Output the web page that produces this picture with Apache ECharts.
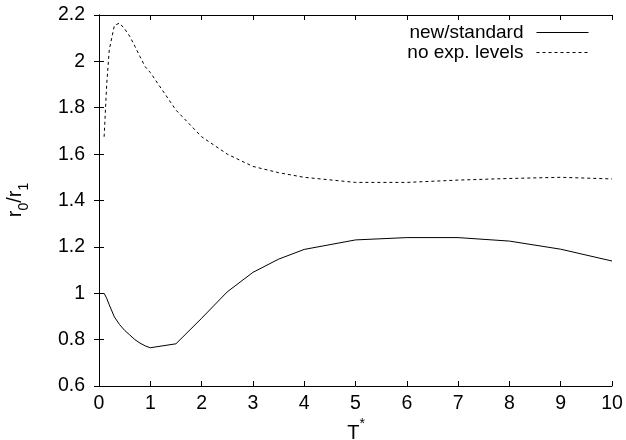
<!DOCTYPE html>
<html>
<head>
<meta charset="utf-8">
<script src="https://cdn.jsdelivr.net/npm/echarts@6/dist/echarts.min.js"></script>
<style>html,body{margin:0;padding:0;background:#fff;}#c{width:626px;height:440px;}</style>
</head>
<body>
<div id="c"></div>
<script>
const tValues = [0.1, 0.15, 0.2, 0.3, 0.4, 0.5, 0.6, 0.7, 0.8, 0.9, 1.0, 1.5, 2, 2.5, 3, 3.5, 4, 5, 6, 7, 8, 9, 10];
const newStandard = [1.0, 0.978, 0.95, 0.898, 0.865, 0.84, 0.82, 0.80, 0.785, 0.773, 0.765, 0.782, 0.892, 1.006, 1.09, 1.147, 1.189, 1.23, 1.24, 1.24, 1.225, 1.19, 1.139];
const noExpLevels = [1.675, 1.90, 2.05, 2.155, 2.165, 2.14, 2.108, 2.065, 2.02, 1.977, 1.952, 1.79, 1.675, 1.60, 1.547, 1.52, 1.50, 1.478, 1.478, 1.488, 1.495, 1.50, 1.493];
const seriesNames = ['new/standard', 'no exp. levels'];
const xTicks = [0, 10, 1];
const yTicks = [0.6, 2.2, 0.2];

const FONT = 'Liberation Sans';
const pair = (xs, ys) => xs.map((x, i) => [x, ys[i]]);
const axisCommon = {
  axisLine: {show: true, lineStyle: {color: '#000', width: 1}},
  axisTick: {show: true, inside: true, length: 5, lineStyle: {color: '#000', width: 1}},
  splitLine: {show: false}
};
const chart = echarts.init(document.getElementById('c'), null, {renderer: 'canvas'});
chart.setOption({
  animation: false,
  backgroundColor: '#fff',
  grid: {left: 99, right: 14, top: 15, bottom: 54, containLabel: false},
  xAxis: [
    Object.assign({type: 'value', min: xTicks[0], max: xTicks[1], interval: xTicks[2], position: 'bottom',
      axisLabel: {color: '#000', fontFamily: FONT, fontSize: 19.5, margin: 8}}, axisCommon),
    Object.assign({type: 'value', min: xTicks[0], max: xTicks[1], interval: xTicks[2], position: 'top',
      axisLabel: {show: false}}, axisCommon)
  ],
  yAxis: [
    Object.assign({type: 'value', min: yTicks[0], max: yTicks[1], interval: yTicks[2], position: 'left',
      axisLabel: {color: '#000', fontFamily: FONT, fontSize: 19.5, margin: 14,
        formatter: v => String(+v.toFixed(1))}}, axisCommon),
    Object.assign({type: 'value', min: yTicks[0], max: yTicks[1], interval: yTicks[2], position: 'right',
      axisLabel: {show: false}}, axisCommon)
  ],
  legend: {
    orient: 'vertical', align: 'right', right: 32, top: 18,
    itemWidth: 52, itemHeight: 10, itemGap: 1,
    itemStyle: {opacity: 0},
    lineStyle: {width: 1},
    textStyle: {color: '#000', fontFamily: FONT, fontSize: 19, padding: [0, 8, 0, 0]},
    data: seriesNames
  },
  series: [
    {name: seriesNames[0], type: 'line', data: pair(tValues, newStandard), symbol: 'none',
      lineStyle: {color: '#000', width: 1, type: 'solid'}, itemStyle: {color: '#000'}},
    {name: seriesNames[1], type: 'line', data: pair(tValues, noExpLevels), symbol: 'none',
      lineStyle: {color: '#000', width: 1, type: [3, 3]}, itemStyle: {color: '#000'}}
  ],
  graphic: [
    {type: 'text', x: 356, y: 430, style: {
      text: '{m|T}{s|*}', fontFamily: FONT, align: 'center', verticalAlign: 'middle',
      rich: {m: {fontSize: 20, fontFamily: FONT, fill: '#000', verticalAlign: 'bottom', lineHeight: 26},
             s: {fontSize: 14, fontFamily: FONT, fill: '#000', verticalAlign: 'top', lineHeight: 26}}}},
    {type: 'text', x: 18, y: 200, rotation: Math.PI / 2, style: {
      text: '{m|r}{s|0}{m|/r}{s|1}', fontFamily: FONT, align: 'center', verticalAlign: 'middle',
      rich: {m: {fontSize: 20, fontFamily: FONT, fill: '#000', verticalAlign: 'top', lineHeight: 26},
             s: {fontSize: 14, fontFamily: FONT, fill: '#000', verticalAlign: 'bottom', lineHeight: 26}}}}
  ]
});
</script>
</body>
</html>
